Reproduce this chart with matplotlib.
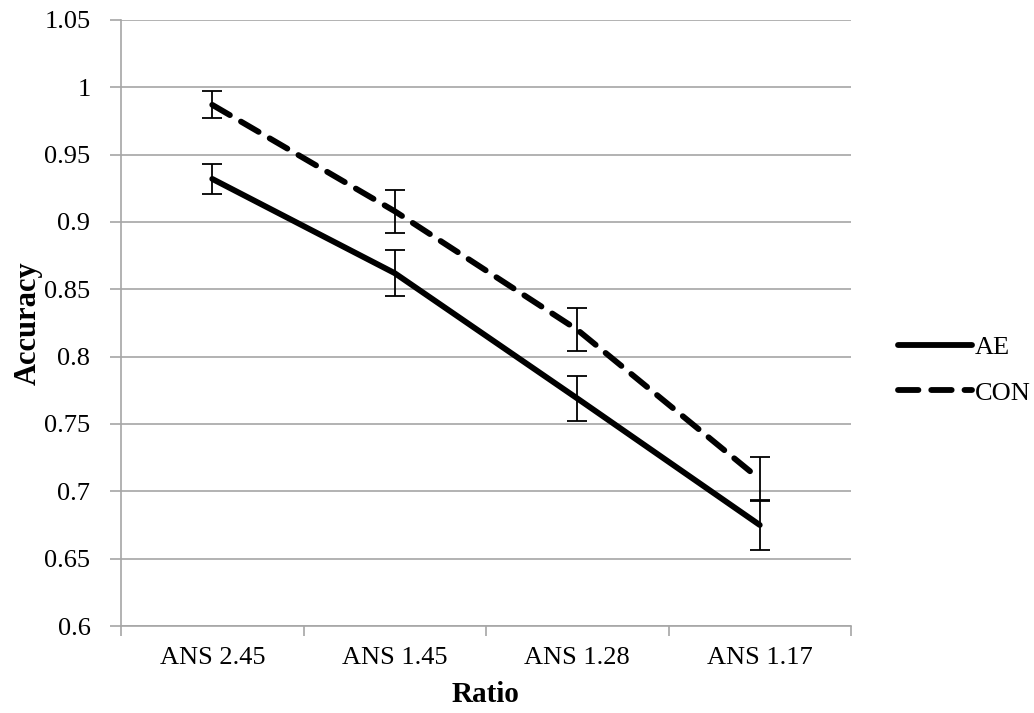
import matplotlib
matplotlib.use("Agg")
import matplotlib.pyplot as plt
import numpy as np

# data
categories = ["ANS 2.45", "ANS 1.45", "ANS 1.28", "ANS 1.17"]
ae_mean = [0.932, 0.862, 0.769, 0.675]
ae_err = [0.011, 0.017, 0.017, 0.0185]
con_mean = [0.987, 0.908, 0.820, 0.709]
con_err = [0.010, 0.016, 0.016, 0.0165]

plt.rcParams['font.family'] = ['Liberation Serif', 'DejaVu Serif']

fig = plt.figure(figsize=(10.34, 7.13), dpi=100)
ax = fig.add_axes([121 / 1034, 1 - 626 / 713, 730 / 1034, 606 / 713])

x = np.arange(len(categories))
grid_c = '#a6a6a6'

# lines
ax.plot(x, ae_mean, color='black', lw=4.2, solid_capstyle='round', label='AE', zorder=3)
ax.plot(x, con_mean, color='black', lw=4.2, dashes=(3.5, 2.2), dash_capstyle='round',
        label='CON', zorder=3)

# error bars
ax.errorbar(x, ae_mean, yerr=ae_err, fmt='none', ecolor='black', elinewidth=1.3,
            capsize=7.5, capthick=1.3, zorder=4)
ax.errorbar(x, con_mean, yerr=con_err, fmt='none', ecolor='black', elinewidth=1.3,
            capsize=7.5, capthick=1.3, zorder=4)

ax.set_ylim(0.6, 1.05)
ax.set_xlim(-0.5, len(categories) - 0.5)
ax.set_yticks(np.arange(0.6, 1.0501, 0.05))
ax.set_yticklabels(['0.6', '0.65', '0.7', '0.75', '0.8', '0.85', '0.9', '0.95', '1', '1.05'])
ax.yaxis.grid(True, color=grid_c, lw=1.2)
ax.set_axisbelow(True)

# x ticks: labels at centres, tick marks at category boundaries
ax.set_xticks(x)
ax.set_xticklabels(categories)
ax.set_xticks(np.arange(-0.5, len(categories)), minor=True)
ax.tick_params(axis='x', which='major', length=0, pad=15, labelsize=19)
ax.tick_params(axis='x', which='minor', length=7, color=grid_c, width=1.2, direction='out')
ax.tick_params(axis='y', length=8, color=grid_c, width=1.2, direction='out', pad=14, labelsize=19)

for side in ['top', 'right']:
    ax.spines[side].set_visible(False)
for side in ['left', 'bottom']:
    ax.spines[side].set_color(grid_c)
    ax.spines[side].set_linewidth(1.2)

ax.set_xlabel('Ratio', fontsize=21, fontweight='bold', labelpad=9)
ax.set_ylabel('Accuracy', fontsize=22, fontweight='bold', labelpad=1)

ax.legend(loc='center left', bbox_to_anchor=(898 / 1034, 1 - 370 / 713),
          bbox_transform=fig.transFigure, frameon=False, fontsize=19,
          borderpad=0, borderaxespad=0, handlelength=2.8, handletextpad=0.1,
          labelspacing=0.85)

fig.savefig('out.png', dpi=100)
